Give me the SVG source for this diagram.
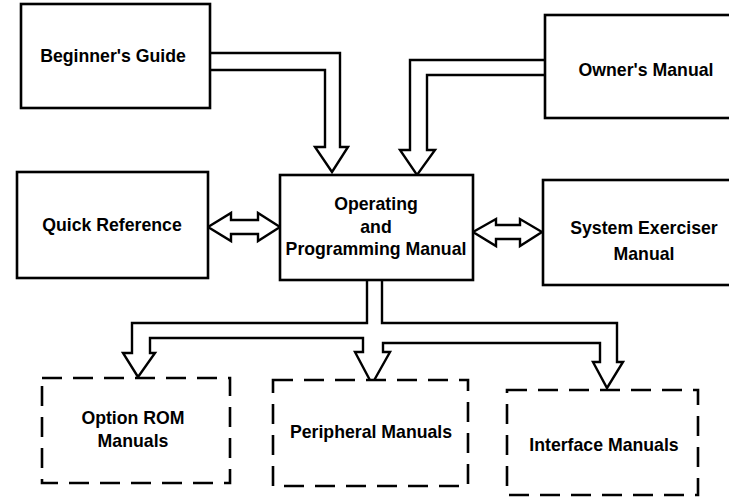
<svg xmlns="http://www.w3.org/2000/svg" width="729" height="503" viewBox="0 0 729 503">
<style>
.box{fill:#fff;stroke:#000;stroke-width:2.6}
.dash{fill:#fff;stroke:#000;stroke-width:2.6;stroke-dasharray:20 11}
.con{fill:none;stroke:#000;stroke-width:2.4;stroke-linejoin:miter}
.dbl{fill:#fff;stroke:#000;stroke-width:2.4;stroke-linejoin:miter}
text{font-family:"Liberation Sans",Arial,sans-serif;font-size:17.7px;font-weight:bold;fill:#000;text-anchor:middle}
</style>
<rect width="729" height="503" fill="#fff"/>
<g id="connectors">
<path class="con" d="M210,53 L340,53 L340,147 L348,147 L332,172 L315,147 L325,147 L325,70 L210,70"/>
<path class="con" d="M545,60 L410,60 L410,150 L400,150 L417,175 L435,150 L427,150 L427,75 L545,75"/>
<path class="dbl" d="M208,227 L231,213 L231,220 L258,220 L258,213 L280,227 L258,241 L258,234 L231,234 L231,241 Z"/>
<path class="dbl" d="M473,232 L496,219 L496,225 L520,225 L520,219 L542,232 L520,246 L520,239 L496,239 L496,246 Z"/>
<path class="con" d="M367,280 L367,323 L132,323 L132,353 L123,353 L138,377 L155,353 L150,353 L150,338 L363,338 L363,352 L355,352 L372,384 L390,352 L383,352 L383,343 L600,343 L600,362 L593,362 L607,388 L623,362 L617,362 L617,323 L382,323 L382,280"/>
</g>
<g id="beginners-guide">
<rect class="box" x="21" y="4" width="189" height="104"/>
<text x="113" y="62">Beginner's Guide</text>
</g>
<g id="owners-manual">
<rect class="box" x="545" y="15" width="192" height="103"/>
<text x="646" y="76">Owner's Manual</text>
</g>
<g id="quick-reference">
<rect class="box" x="17" y="172" width="191" height="106"/>
<text x="112" y="231">Quick Reference</text>
</g>
<g id="operating-programming-manual">
<rect class="box" x="280" y="175" width="193" height="105"/>
<text x="376" y="210">Operating</text>
<text x="376" y="233">and</text>
<text x="376" y="255">Programming Manual</text>
</g>
<g id="system-exerciser-manual">
<rect class="box" x="543" y="180" width="194" height="105"/>
<text x="644" y="234">System Exerciser</text>
<text x="644" y="260">Manual</text>
</g>
<g id="option-rom-manuals">
<rect class="dash" x="42" y="378" width="188" height="105"/>
<text x="133" y="424">Option ROM</text>
<text x="133" y="447">Manuals</text>
</g>
<g id="peripheral-manuals">
<rect class="dash" x="273" y="380" width="195" height="106"/>
<text x="371" y="438">Peripheral Manuals</text>
</g>
<g id="interface-manuals">
<rect class="dash" x="507" y="390" width="191" height="105"/>
<text x="604" y="451">Interface Manuals</text>
</g>
</svg>
